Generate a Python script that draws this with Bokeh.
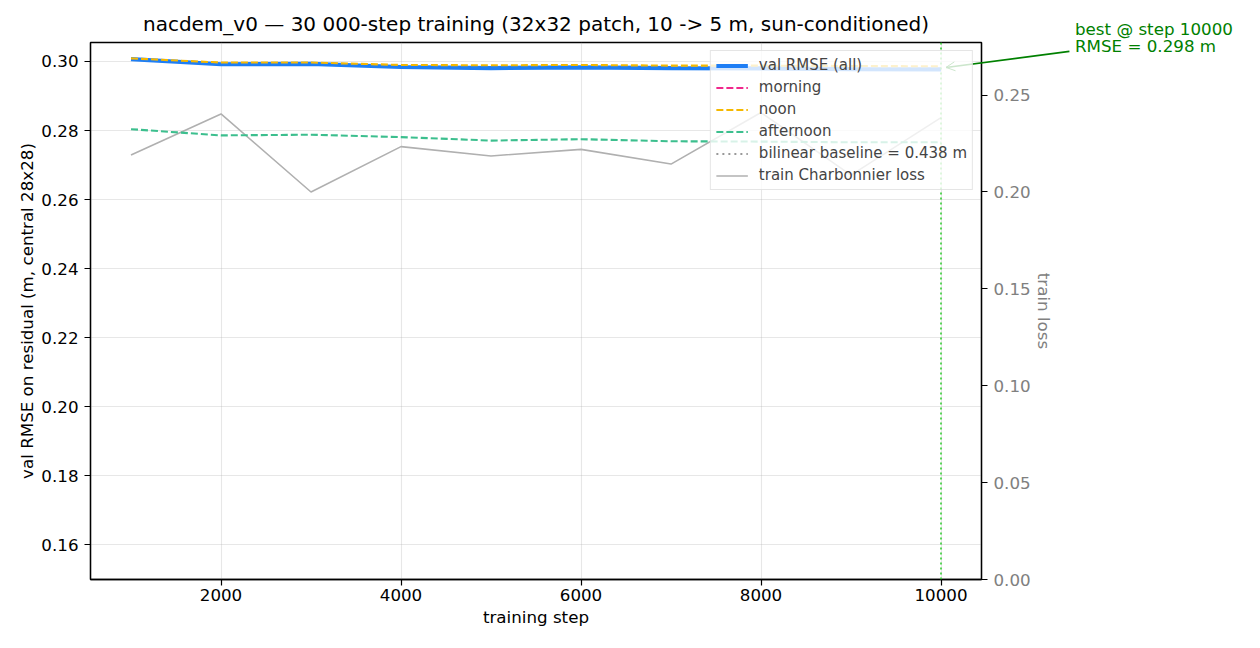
import math
from bokeh.plotting import figure
from bokeh.models import (Range1d, LinearAxis, FixedTicker, NumeralTickFormatter,
                          Span, Label, Arrow, OpenHead, Legend, LegendItem)
from bokeh.embed import file_html
from bokeh.resources import INLINE

# ---------------- data ----------------
steps = [1000, 2000, 3000, 4000, 5000, 6000, 7000, 8000, 9000, 10000]
val_all = [0.3007, 0.2992, 0.2993, 0.2984, 0.2981, 0.2983, 0.2981, 0.2980, 0.2978, 0.2977]
val_morning = [float("nan")] * 10
val_noon = [0.3009, 0.2997, 0.2997, 0.2990, 0.2989, 0.2990, 0.2988, 0.2988, 0.2987, 0.2986]
val_afternoon = [0.2804, 0.2786, 0.2788, 0.2781, 0.2771, 0.2775, 0.2769, 0.2768, 0.2766, 0.2766]
train_loss = [0.2191, 0.2403, 0.2000, 0.2234, 0.2186, 0.2220, 0.2144, 0.2410, 0.2087, 0.2384]
baseline_rmse = 0.438

x_ticks = [2000, 4000, 6000, 8000, 10000]
y_ticks = [0.16, 0.18, 0.20, 0.22, 0.24, 0.26, 0.28, 0.30]
loss_ticks = [0.00, 0.05, 0.10, 0.15, 0.20, 0.25]

title = "nacdem_v0 \u2014 30 000-step training (32x32 patch, 10 -> 5 m, sun-conditioned)"

# ---------------- layout ----------------
W, H = 1252, 640
ML, MT = 90, 42
MR, MB = W - 981, H - 579
FW, FH = W - ML - MR, H - MT - MB
FONT = "DejaVu Sans"
FS = "16.7px"

pad = 0.05 * (max(steps) - min(steps))
x0, x1 = min(steps) - pad, max(steps) + pad
y0, y1 = 0.15, 0.3055
l0, l1 = 0.0, max(train_loss) * 1.15

p = figure(width=W, height=H, output_backend="svg", toolbar_location=None,
           x_range=Range1d(x0, x1), y_range=Range1d(y0, y1),
           min_border_left=ML, min_border_right=MR, min_border_top=MT, min_border_bottom=MB)
p.extra_y_ranges = {"loss": Range1d(l0, l1)}

p.title.text = title
p.title.align = "center"
p.title.text_font = FONT
p.title.text_font_size = "20px"
p.title.text_font_style = "normal"
p.title.text_color = "black"

p.outline_line_color = "black"
p.outline_line_width = 1.3
p.background_fill_color = "white"
p.border_fill_color = "white"


def style_axis(ax, color="black"):
    ax.major_label_text_font = FONT
    ax.major_label_text_font_size = FS
    ax.major_label_text_color = color
    ax.axis_label_text_font = FONT
    ax.axis_label_text_font_size = FS
    ax.axis_label_text_font_style = "normal"
    ax.axis_label_text_color = color
    ax.major_tick_in = 0
    ax.major_tick_out = 6
    ax.minor_tick_out = 0
    ax.minor_tick_in = 0
    ax.axis_line_color = "black"
    ax.axis_line_width = 1.3
    ax.major_tick_line_color = "black"
    ax.major_tick_line_width = 1.2


style_axis(p.xaxis[0])
style_axis(p.yaxis[0])
p.xaxis[0].ticker = FixedTicker(ticks=x_ticks)
p.xaxis[0].axis_label = "training step"
p.xaxis[0].major_label_standoff = 3
p.xaxis[0].axis_label_standoff = 3
p.yaxis[0].ticker = FixedTicker(ticks=y_ticks)
p.yaxis[0].formatter = NumeralTickFormatter(format="0.00")
p.yaxis[0].axis_label = "val RMSE on residual (m, central 28x28)"
p.yaxis[0].major_label_standoff = 6
p.yaxis[0].axis_label_standoff = 1

rax = LinearAxis(y_range_name="loss", ticker=FixedTicker(ticks=loss_ticks),
                 formatter=NumeralTickFormatter(format="0.00"),
                 axis_label="train loss")
style_axis(rax, "#808080")
rax.major_label_standoff = 6
rax.axis_label_standoff = 0
p.add_layout(rax, "right")

for g in (p.xgrid[0], p.ygrid[0]):
    g.grid_line_color = "#b0b0b0"
    g.grid_line_alpha = 0.3
    g.grid_line_width = 1.1

# ---------------- glyphs ----------------
r_loss = p.line(steps, train_loss, y_range_name="loss", line_color="#b0b0b0", line_width=1.6)
r_all = p.line(steps, val_all, line_color="#1e7ef5", line_width=4.2)
r_morn = p.line(steps, val_morning, line_color="#f0288c", line_width=2.1, line_dash="7 3")
r_noon = p.line(steps, val_noon, line_color="#f5b800", line_width=2.1, line_dash="7 3")
r_aft = p.line(steps, val_afternoon, line_color="#3cbf8e", line_width=2.1, line_dash="7 3")
r_base = p.line([min(steps), max(steps)], [baseline_rmse, baseline_rmse],
                line_color="#999999", line_width=2.1, line_dash="2 4")

best_i = min(range(len(val_all)), key=lambda i: val_all[i])
best_step, best_val = steps[best_i], val_all[best_i]

p.add_layout(Span(location=best_step, dimension="height", line_color="#33cc33",
                  line_width=1.6, line_dash="2 3"))

# annotation arrow: pixel offsets from the best point
start_off = (128, 18)
end_off = (5, 2)
dxpp = (x1 - x0) / FW
dypp = (y1 - y0) / FH
p.add_layout(Arrow(end=OpenHead(size=9, line_color="green", line_width=1),
                   x_start=best_step + start_off[0] * dxpp, y_start=best_val + start_off[1] * dypp,
                   x_end=best_step + end_off[0] * dxpp, y_end=best_val + end_off[1] * dypp,
                   line_color="green", line_alpha=0, line_width=1.6), "right")
seg_dx, seg_dy = start_off[0] - end_off[0], start_off[1] - end_off[1]
seg_len = int(round(math.hypot(seg_dx, seg_dy)))
p.add_layout(Label(x=best_step, y=best_val, x_offset=end_off[0], y_offset=end_off[1],
                   text=" ", text_font=FONT, text_font_size="1.4px",
                   angle=math.atan2(seg_dy, seg_dx),
                   text_align="left", text_baseline="middle",
                   background_fill_color="green",
                   padding=dict(left=0, right=seg_len, top=0, bottom=0)), "above")
p.add_layout(Label(x=best_step, y=best_val, x_offset=134, y_offset=13,
                   text=f"best @ step {best_step}\nRMSE = {best_val:.3f} m",
                   text_font=FONT, text_font_size=FS, text_color="green",
                   text_baseline="bottom", text_align="left", text_line_height=0.86), "right")

legend = Legend(items=[
    LegendItem(label="val RMSE (all)", renderers=[r_all]),
    LegendItem(label="morning", renderers=[r_morn]),
    LegendItem(label="noon", renderers=[r_noon]),
    LegendItem(label="afternoon", renderers=[r_aft]),
    LegendItem(label=f"bilinear baseline = {baseline_rmse:.3f} m", renderers=[r_base]),
    LegendItem(label="train Charbonnier loss", renderers=[r_loss]),
], location="top_right")
legend.margin = 8
legend.padding = 5
legend.spacing = 4
legend.glyph_width = 32
legend.glyph_height = 17
legend.label_height = 17
legend.label_standoff = 11
legend.label_text_font = FONT
legend.label_text_font_size = "15px"
legend.background_fill_color = "white"
legend.background_fill_alpha = 0.8
legend.border_line_color = "#cccccc"
legend.border_line_width = 1.2
p.add_layout(legend)

open("out.html", "w").write(file_html(p, INLINE))
